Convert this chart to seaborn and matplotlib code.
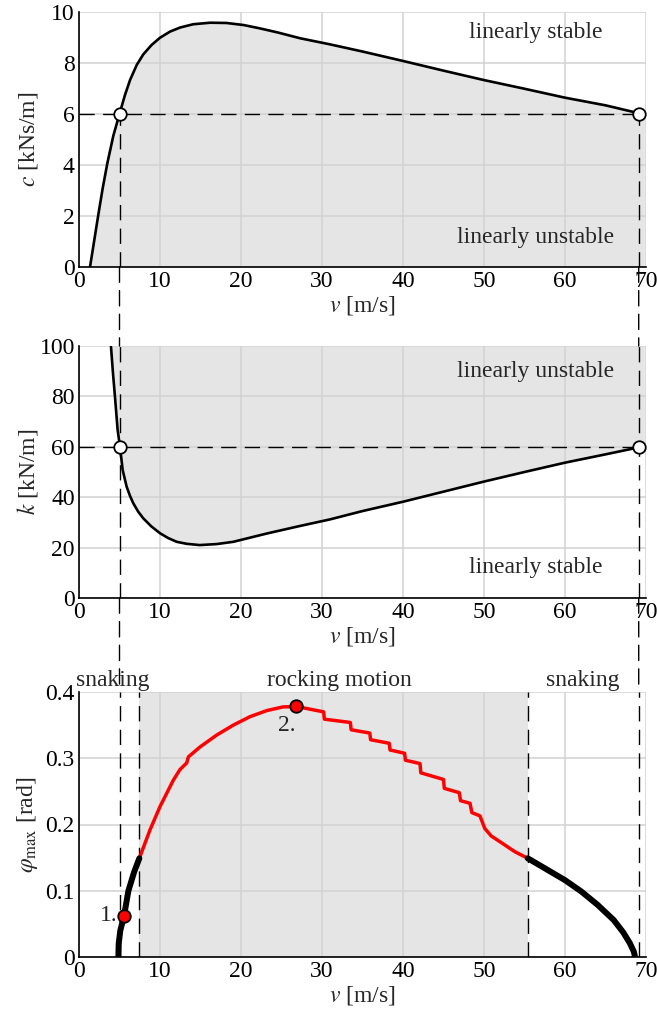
import numpy as np
import pandas as pd
import seaborn as sns
import matplotlib
matplotlib.use("Agg")
import matplotlib.pyplot as plt
from matplotlib.patches import ConnectionPatch

sns.set_theme(style="white")
plt.rcParams['font.family'] = ['Liberation Serif', 'DejaVu Serif']
plt.rcParams['mathtext.fontset'] = 'stix'
FS = 17

# ---------------- data ----------------
# panel 1: damping c(v) boundary
c_v = [1.36, 1.89, 2.38, 2.92, 3.5, 4.24, 5.06, 5.68, 6.30, 7.12, 7.94, 8.97, 10.0,
       11.23, 12.47, 14.1, 16.2, 18.2, 20.3, 22.3, 24.5, 27.3, 31.0, 35.0, 40.0, 45.0,
       50.0, 55.0, 60.0, 65.0, 68.85, 69.8]
c_val = [0.0, 1.06, 2.04, 3.08, 4.07, 5.15, 6.07, 6.75, 7.33, 7.92, 8.34, 8.71, 8.99,
         9.23, 9.39, 9.52, 9.58, 9.57, 9.49, 9.36, 9.2, 8.97, 8.73, 8.45, 8.08, 7.7,
         7.33, 6.99, 6.64, 6.34, 6.05, 5.98]

# panel 2: stiffness k(v) boundary
k_v = [3.95, 4.2, 4.44, 4.77, 5.06, 5.39, 5.88, 6.3, 6.7, 7.3, 7.94, 8.9, 10.0, 11.0,
       12.06, 13.3, 14.9, 17.0, 19.05, 23.2, 27.3, 31.0, 35.0, 40.0, 45.0, 50.0, 55.0,
       60.0, 65.0, 68.85, 69.8]
k_val = [99.7, 89.0, 79.9, 66.7, 60.0, 50.8, 44.2, 40.5, 37.6, 34.3, 31.6, 28.5, 25.7,
         23.8, 22.3, 21.5, 21.0, 21.4, 22.3, 25.6, 28.6, 31.2, 34.5, 38.2, 42.2, 46.2,
         50.0, 53.7, 57.0, 59.6, 60.1]

# reference design points
design_v = [5.0, 69.1]
c_design = 6.0
k_design = 60.0

# panel 3: maximum amplitude
snake1_v = [4.86, 4.9, 5.1, 5.56, 6.1, 6.8, 7.45]
snake1_phi = [0.0, 0.02, 0.04, 0.062, 0.1, 0.128, 0.149]

rock_v = [7.45, 8.77, 10.0, 11.03, 11.65, 12.47, 13.3, 13.5, 14.94, 17.0, 19.05, 21.1,
          23.2, 25.2, 26.9, 30.2, 30.3, 33.5, 33.6, 35.9, 36.0, 38.3, 38.4, 40.2, 40.3,
          42.1, 42.2, 45.0, 45.1, 46.95, 47.1, 48.27, 48.5, 49.5, 50.1, 50.9, 52.4,
          53.8, 55.4]
rock_phi = [0.149, 0.192, 0.227, 0.252, 0.267, 0.283, 0.293, 0.302, 0.317, 0.335, 0.350,
            0.3627, 0.372, 0.3775, 0.378, 0.370, 0.359, 0.354, 0.343, 0.338, 0.328,
            0.3226, 0.3125, 0.3075, 0.297, 0.292, 0.278, 0.268, 0.2546, 0.248, 0.236,
            0.232, 0.218, 0.213, 0.194, 0.1826, 0.1705, 0.159, 0.149]

snake2_v = [55.4, 57.5, 60.0, 62.0, 64.0, 66.0, 67.2, 68.0, 68.5, 68.65]
snake2_phi = [0.149, 0.134, 0.116, 0.099, 0.079, 0.056, 0.037, 0.021, 0.008, 0.0]

rock_bounds = [7.45, 55.4]
points_v = [5.56, 26.8]
points_phi = [0.062, 0.379]
points_lbl = ["1.", "2."]

x_ticks = [0, 10, 20, 30, 40, 50, 60, 70]
c_ticks = [0, 2, 4, 6, 8, 10]
k_ticks = [0, 20, 40, 60, 80, 100]
phi_ticks = [0, 0.1, 0.2, 0.3, 0.4]
phi_ticklabels = ["0", "0.1", "0.2", "0.3", "0.4"]

# ---------------- figure ----------------
W, H = 657, 1014
fig = plt.figure(figsize=(W / 100, H / 100), dpi=100)
left = 79 / W
width = (646 - 79) / W

def mk_ax(top_px, bot_px):
    return fig.add_axes([left, 1 - bot_px / H, width, (bot_px - top_px) / H])

ax1 = mk_ax(12, 267)
ax2 = mk_ax(346, 598)
ax3 = mk_ax(692, 957)

SHADE = '#e5e5e5'
GRID = '#d2d2d2'
DASH = (0, (11, 6))

for ax in (ax1, ax2, ax3):
    ax.set_facecolor('white')
    ax.set_axisbelow(True)
    ax.grid(True, color=GRID, lw=1.1, zorder=0.5)
    for s in ('top', 'right'):
        ax.spines[s].set_visible(False)
    for s in ('left', 'bottom'):
        ax.spines[s].set_color('black')
        ax.spines[s].set_linewidth(1.2)
        ax.spines[s].set_zorder(6)
    ax.set_xlim(0, 70)
    ax.set_xticks(x_ticks)
    ax.tick_params(axis='both', length=0, pad=3, labelsize=FS, colors='black')
    ax.set_xlabel(r'$v$ [m/s]', fontsize=FS, labelpad=1)

# ---- panel 1 ----
df1 = pd.DataFrame({'v': c_v, 'c': c_val})
ax1.fill_between(df1['v'], 0, df1['c'], color=SHADE, lw=0, zorder=0.2)
sns.lineplot(data=df1, x='v', y='c', ax=ax1, color='black', lw=1.9, sort=False,
             estimator=None, zorder=3)
ax1.set_ylim(0, 10)
ax1.set_yticks(c_ticks)
ax1.set_ylabel(r'$c$ [kNs/m]', fontsize=FS)
ax1.plot([0, design_v[1]], [c_design, c_design], color='black', lw=1, ls=DASH, zorder=2)
for dv in design_v:
    ax1.plot([dv, dv], [0, c_design], color='black', lw=1, ls=DASH, zorder=2)
ax1.plot(design_v, [c_design] * 2, ls='none', marker='o', ms=9, mfc='white',
         mec='black', mew=1.3, zorder=7, clip_on=False)
ax1.text(56.4, 9.2, 'linearly stable', fontsize=FS, ha='center', va='center')
ax1.text(56.4, 1.15, 'linearly unstable', fontsize=FS, ha='center', va='center')

# ---- panel 2 ----
df2 = pd.DataFrame({'v': k_v, 'k': k_val})
ax2.fill_between(df2['v'], df2['k'], 100, color=SHADE, lw=0, zorder=0.2)
sns.lineplot(data=df2, x='v', y='k', ax=ax2, color='black', lw=1.9, sort=False,
             estimator=None, zorder=3)
ax2.set_ylim(0, 100)
ax2.set_yticks(k_ticks)
ax2.set_ylabel(r'$k$ [kN/m]', fontsize=FS)
ax2.plot([0, design_v[1]], [k_design, k_design], color='black', lw=1, ls=DASH, zorder=2)
for dv in design_v:
    ax2.axvline(dv, color='black', lw=1, ls=DASH, zorder=2)
ax2.plot(design_v, [k_design] * 2, ls='none', marker='o', ms=9, mfc='white',
         mec='black', mew=1.3, zorder=7, clip_on=False)
ax2.text(56.4, 89.8, 'linearly unstable', fontsize=FS, ha='center', va='center')
ax2.text(56.4, 12.3, 'linearly stable', fontsize=FS, ha='center', va='center')

# ---- panel 3 ----
ax3.axvspan(rock_bounds[0], rock_bounds[1], color=SHADE, lw=0, zorder=0.2)
ax3.set_ylim(0, 0.4)
ax3.set_yticks(phi_ticks)
ax3.set_yticklabels(phi_ticklabels)
ax3.set_ylabel(r'$\varphi_{\mathrm{max}}$ [rad]', fontsize=FS)
for b in rock_bounds:
    ax3.axvline(b, color='black', lw=1, ls=DASH, zorder=2)
for dv in design_v:
    ax3.axvline(dv, color='black', lw=1, ls=DASH, zorder=2)
sns.lineplot(x=rock_v, y=rock_phi, ax=ax3, color='red', lw=2.5, sort=False,
             estimator=None, zorder=3)
sns.lineplot(x=snake1_v, y=snake1_phi, ax=ax3, color='black', lw=4.3, sort=False,
             estimator=None, zorder=4)
sns.lineplot(x=snake2_v, y=snake2_phi, ax=ax3, color='black', lw=4.3, sort=False,
             estimator=None, zorder=4)
ax3.plot(points_v, points_phi, ls='none', marker='o', ms=9, mfc='red',
         mec='black', mew=1.3, zorder=7, clip_on=False)
ax3.text(points_v[0] - 0.8, points_phi[0], points_lbl[0], fontsize=FS,
         ha='right', va='center')
ax3.text(points_v[1] - 1.2, points_phi[1] - 0.03, points_lbl[1], fontsize=FS,
         ha='center', va='center')
ax3.text(4.2, 0.417, 'snaking', fontsize=FS, ha='center', va='center', clip_on=False)
ax3.text(32.2, 0.417, 'rocking motion', fontsize=FS, ha='center', va='center',
         clip_on=False)
ax3.text(62.2, 0.417, 'snaking', fontsize=FS, ha='center', va='center', clip_on=False)

# ---- connecting dashed lines across the gaps ----
for dv in design_v:
    for (a, ya, b, yb) in ((ax1, 0, ax2, 100), (ax2, 0, ax3, 0.4)):
        con = ConnectionPatch(xyA=(dv, ya), coordsA=a.transData,
                              xyB=(dv, yb), coordsB=b.transData,
                              color='black', lw=1, ls=DASH, zorder=1)
        fig.add_artist(con)

for ax in (ax1, ax2, ax3):
    ax.yaxis.set_label_coords(-0.068, 0.5)

fig.savefig('out.png', dpi=100)
